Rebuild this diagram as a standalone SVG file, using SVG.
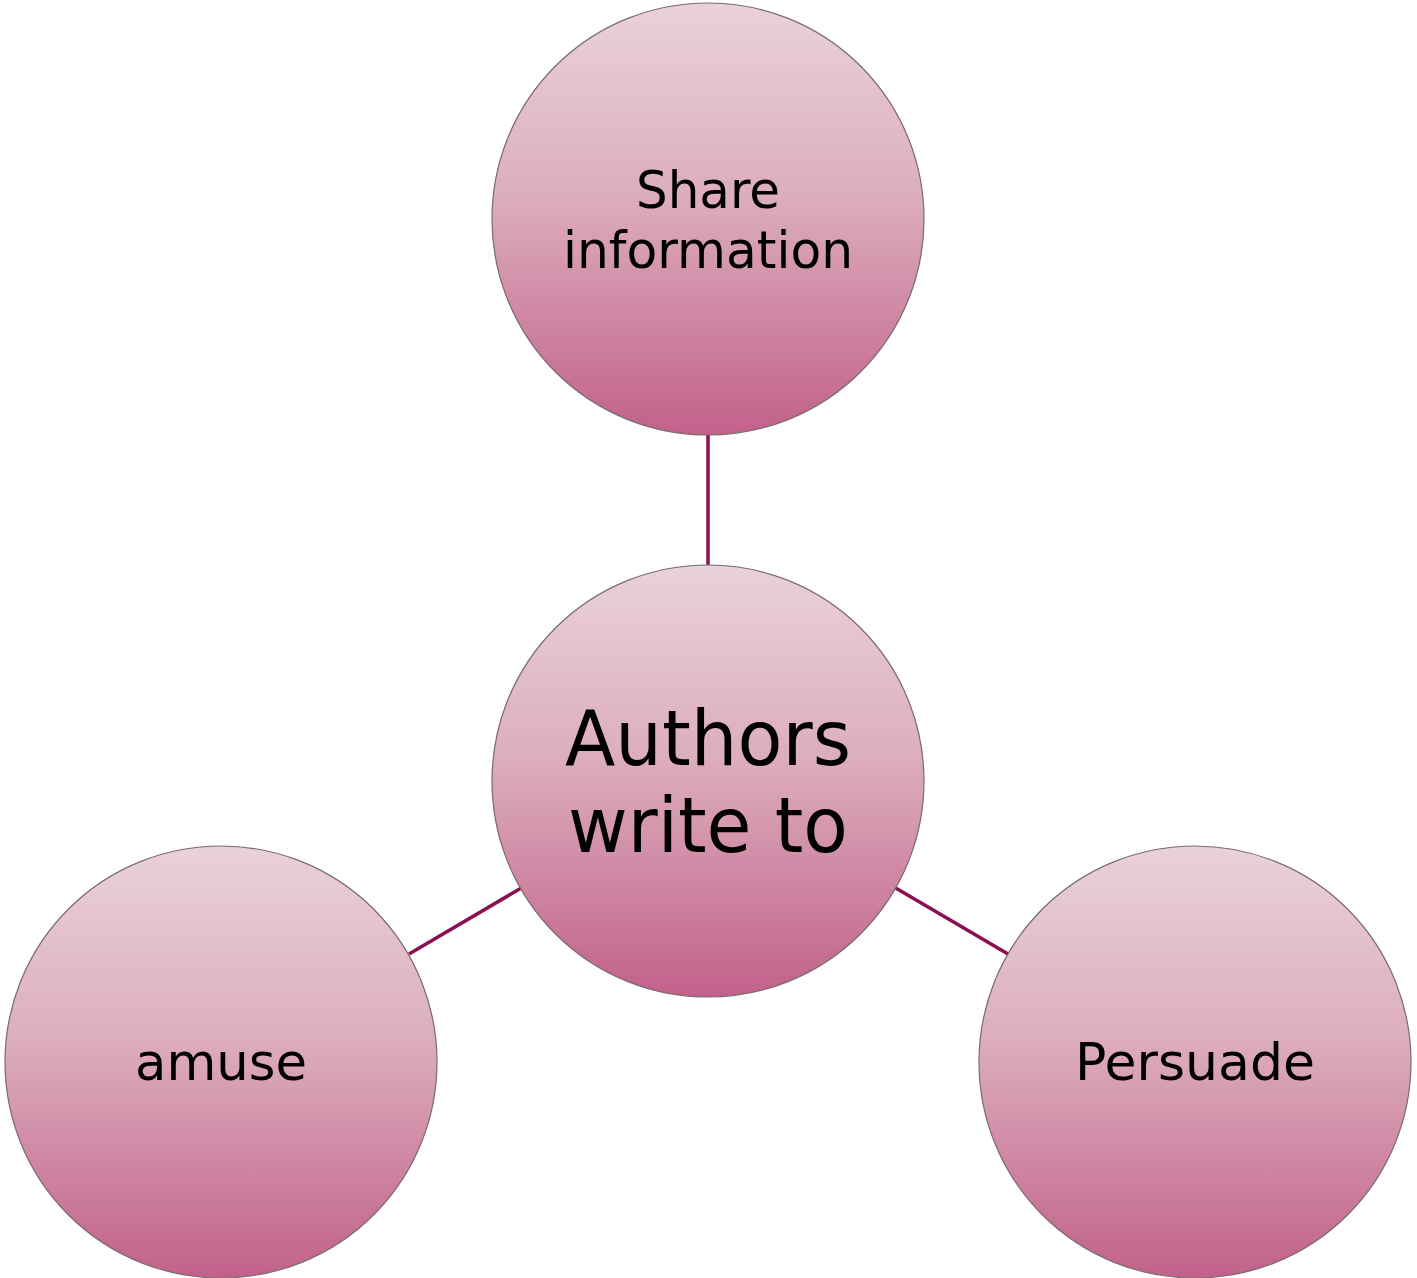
<svg xmlns="http://www.w3.org/2000/svg" width="1417" height="1278" viewBox="0 0 1417 1278">
<defs>
<linearGradient id="g" x1="0" y1="0" x2="0" y2="1">
<stop offset="0" stop-color="#e9d1da"/>
<stop offset="0.45" stop-color="#dcadbd"/>
<stop offset="1" stop-color="#c2618a"/>
</linearGradient>
<style>
.n{fill:url(#g);stroke:#7a6a70;stroke-width:1.2}
.t{font-family:"DejaVu Sans","Liberation Sans",sans-serif;fill:#000;text-anchor:middle}
.c{stroke:#8c0f52;stroke-width:3.5;fill:none}
</style>
</defs>
<g id="connectors">
<line class="c" x1="708" y1="435" x2="708" y2="566"/>
<line class="c" x1="409" y1="954" x2="523" y2="887"/>
<line class="c" x1="894" y1="887" x2="1008" y2="954"/>
</g>
<g id="node-share">
<circle class="n" cx="708" cy="219" r="216"/>
<text class="t" x="708" y="208" font-size="52" textLength="144" lengthAdjust="spacingAndGlyphs">Share</text>
<text class="t" x="708" y="268" font-size="52" textLength="290" lengthAdjust="spacingAndGlyphs">information</text>
</g>
<g id="node-center">
<circle class="n" cx="708" cy="781" r="216"/>
<text class="t" x="708" y="765" font-size="76" textLength="286" lengthAdjust="spacingAndGlyphs">Authors</text>
<text class="t" x="708" y="852" font-size="76" textLength="280" lengthAdjust="spacingAndGlyphs">write to</text>
</g>
<g id="node-amuse">
<circle class="n" cx="221" cy="1062" r="216"/>
<text class="t" x="221" y="1080" font-size="52" textLength="172" lengthAdjust="spacingAndGlyphs">amuse</text>
</g>
<g id="node-persuade">
<circle class="n" cx="1195" cy="1062" r="216"/>
<text class="t" x="1195" y="1080" font-size="52" textLength="240" lengthAdjust="spacingAndGlyphs">Persuade</text>
</g>
</svg>
